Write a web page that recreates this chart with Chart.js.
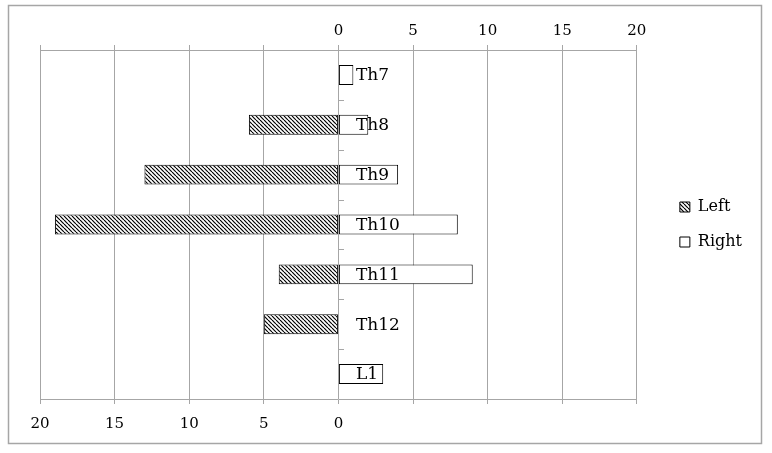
<!DOCTYPE html>
<html>
<head>
<meta charset="utf-8">
<script src="https://cdn.jsdelivr.net/npm/chart.js@4"></script>
<style>
  html, body { margin: 0; padding: 0; background: #fff; }
  #box { position: relative; width: 772px; height: 453px; }
</style>
</head>
<body>
<div id="box"><canvas id="chart"></canvas></div>
<script>
const categories = ["Th7", "Th8", "Th9", "Th10", "Th11", "Th12", "L1"];
const leftValues = [0, 6, 13, 19, 4, 5, 0];
const rightValues = [1, 2, 4, 8, 9, 0, 3];
const axisMax = 20;
const axisStep = 5;

const gridGray = "#a6a6a6";
Chart.defaults.font.family = "'DejaVu Serif', serif";
Chart.defaults.color = "#000";

// diagonal hatch for the Left bars
const hatch = (() => {
  const c = document.createElement("canvas");
  c.width = 4; c.height = 4;
  const g = c.getContext("2d");
  g.fillStyle = "#fff";
  g.fillRect(0, 0, 4, 4);
  g.strokeStyle = "#000";
  g.lineWidth = 1.2;
  [-4, 0, 4].forEach((k) => {
    g.beginPath(); g.moveTo(k, 0); g.lineTo(k + 4, 4); g.stroke();
  });
  return g.createPattern(c, "repeat");
})();

// frame, category labels and little ticks along the zero line
const catAxis = {
  id: "catAxis",
  beforeDraw(chart) {
    const ctx = chart.ctx;
    ctx.save();
    ctx.strokeStyle = gridGray;
    ctx.lineWidth = 1.5;
    ctx.strokeRect(8.5, 5.5, 753, 438);
    ctx.restore();
  },
  afterDatasetsDraw(chart) {
    const { ctx, scales: { x, y } } = chart;
    const x0 = Math.round(x.getPixelForValue(0));
    ctx.save();
    ctx.strokeStyle = gridGray;
    ctx.lineWidth = 1;
    for (let i = 0; i < categories.length - 1; i++) {
      const yy = Math.round((y.getPixelForValue(i) + y.getPixelForValue(i + 1)) / 2) + 0.5;
      ctx.beginPath(); ctx.moveTo(x0, yy); ctx.lineTo(x0 + 6, yy); ctx.stroke();
    }
    ctx.fillStyle = "#000";
    ctx.font = "17px 'DejaVu Serif'";
    ctx.textBaseline = "middle";
    categories.forEach((c, i) => ctx.fillText(c, x0 + 18, y.getPixelForValue(i) + 1));
    ctx.restore();
  }
};

new Chart("chart", {
  type: "bar",
  data: {
    labels: categories,
    datasets: [
      {
        label: "Left",
        data: leftValues.map((v) => -v),
        backgroundColor: hatch,
        borderColor: "#000",
        borderWidth: 1,
        borderSkipped: false,
        barPercentage: 0.4,
        categoryPercentage: 1
      },
      {
        label: "Right",
        data: rightValues,
        backgroundColor: "#fff",
        borderColor: "#000",
        borderWidth: 1,
        borderSkipped: false,
        barPercentage: 0.4,
        categoryPercentage: 1
      }
    ]
  },
  options: {
    indexAxis: "y",
    responsive: true,
    maintainAspectRatio: false,
    animation: false,
    layout: { padding: { left: 40, top: 17, bottom: 9, right: 20 } },
    scales: {
      x: {
        type: "linear", position: "bottom", stacked: true,
        min: -axisMax, max: axisMax,
        ticks: { stepSize: axisStep, padding: 11, font: { size: 15 },
          callback: (v) => (v <= 0 ? Math.abs(v) : "") },
        grid: { color: gridGray, tickLength: 5 },
        border: { color: gridGray }
      },
      x2: {
        type: "linear", position: "top",
        min: -axisMax, max: axisMax,
        ticks: { stepSize: axisStep, padding: 5, font: { size: 15 },
          callback: (v) => (v >= 0 ? v : "") },
        grid: { color: gridGray, tickLength: 5, drawOnChartArea: false },
        border: { color: gridGray }
      },
      y: {
        type: "category", position: "right", stacked: true,
        ticks: { display: false },
        grid: { display: false },
        border: { display: false },
        afterFit: (s) => { s.width = 24; }
      }
    },
    plugins: {
      tooltip: { enabled: false },
      legend: {
        position: "right",
        fullSize: false,
        labels: { boxWidth: 10, boxHeight: 10, padding: 19, font: { size: 16 }, color: "#000" }
      }
    }
  },
  plugins: [catAxis]
});
</script>
</body>
</html>
